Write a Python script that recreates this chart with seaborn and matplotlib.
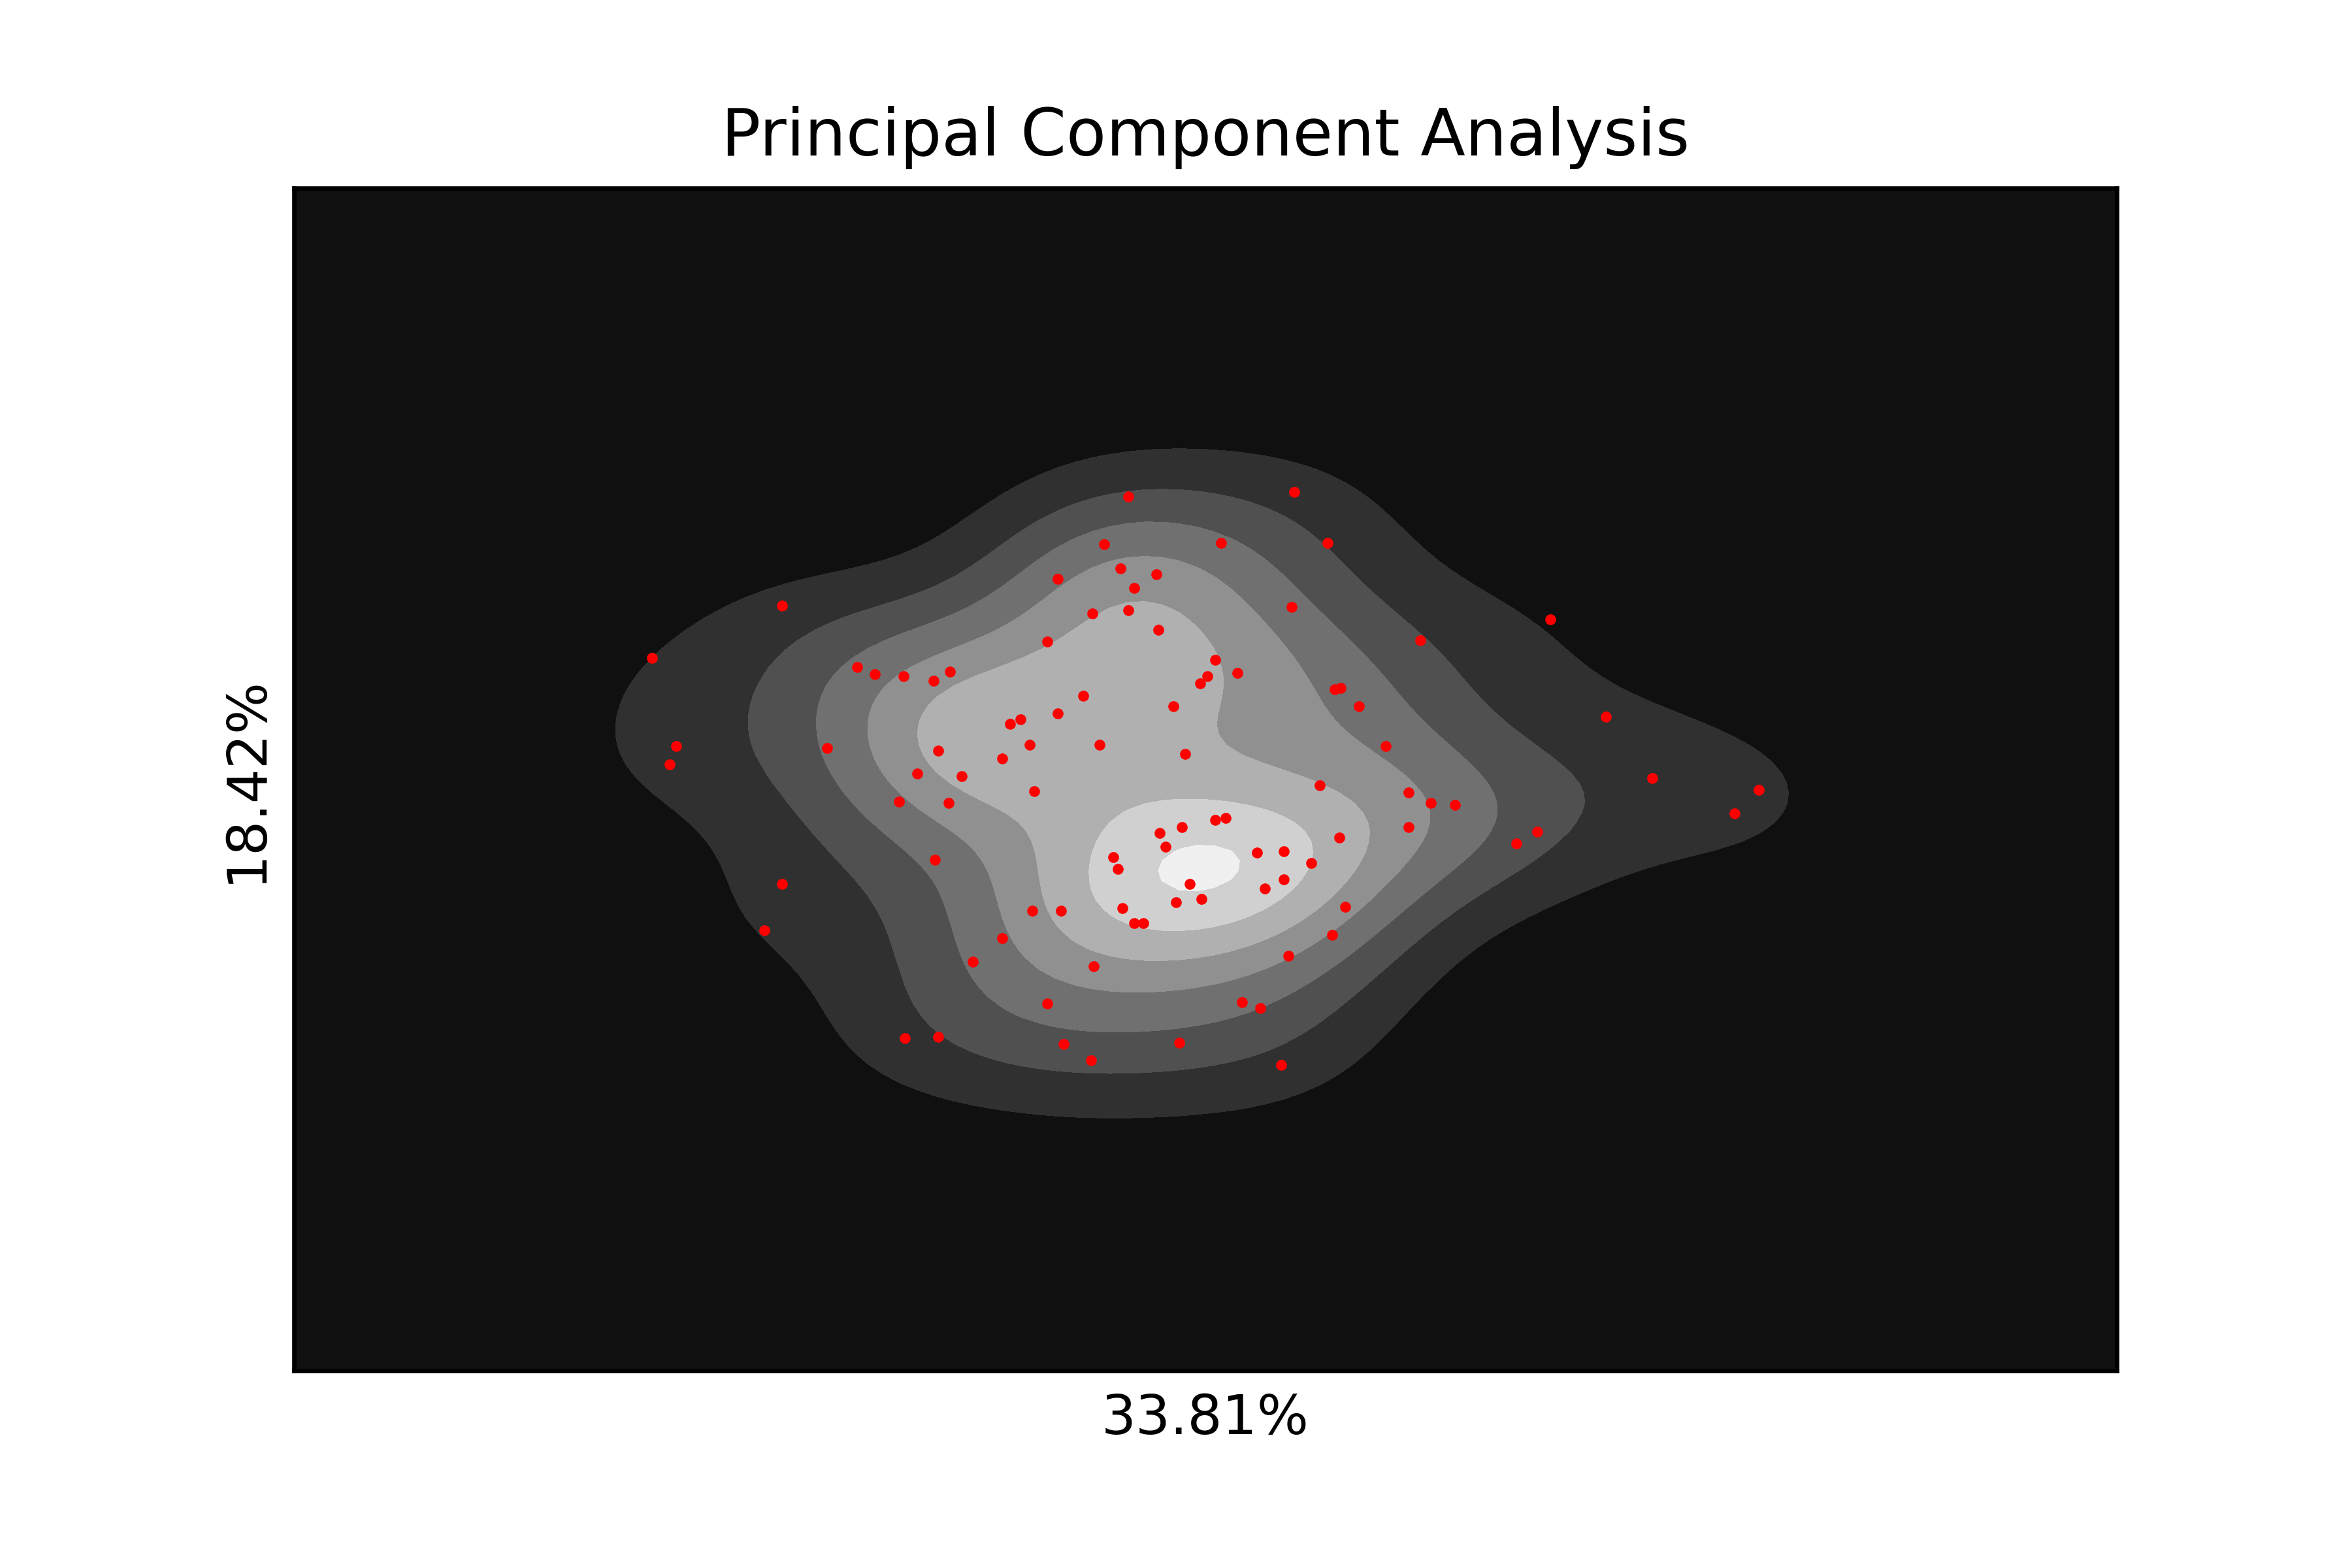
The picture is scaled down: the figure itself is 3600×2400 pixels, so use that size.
import numpy as np
import pandas as pd
import seaborn as sns
import matplotlib.pyplot as plt
from matplotlib.colors import ListedColormap, Normalize

# scores
pc1 = [752, 863, 885, 736, 814, 705, 747, 771, 756, 521, 861, 752, 728, 1034, 772, 698, 947, 434, 810, 571,
       583, 602, 622, 633, 805, 800, 825, 890, 894, 722, 782, 906, 705, 680, 673, 1071, 450, 446, 551, 625,
       686, 733, 668, 790, 924, 611, 641, 1102, 880, 689, 939, 1173, 599, 632, 954, 970, 1157, 810, 817, 788,
       773, 939, 893, 1025, 1011, 777, 838, 856, 742, 745, 623, 874, 856, 843, 793, 521, 801, 784, 748, 688,
       707, 897, 756, 762, 509, 888, 668, 859, 648, 729, 698, 828, 840, 603, 625, 709, 786, 727, 854]
pc2 = [331, 328, 362, 363, 362, 386, 379, 383, 392, 404, 405, 407, 409, 413, 420, 428, 427, 439, 440, 445,
       450, 451, 454, 448, 451, 456, 449, 460, 459, 464, 471, 471, 476, 480, 483, 478, 498, 510, 499, 501,
       497, 497, 506, 503, 498, 516, 518, 519, 524, 528, 529, 527, 535, 536, 536, 537, 543, 547, 546, 552,
       556, 552, 559, 555, 563, 565, 569, 568, 572, 580, 574, 576, 587, 593, 590, 590, 600, 602, 606, 608,
       608, 605, 616, 616, 621, 624, 626, 638, 642, 645, 670, 669, 673, 693, 692, 697, 696, 708, 711]
xlabel = "33.81%"
ylabel = "18.42%"
title = "Principal Component Analysis"
band_colors = ["#101010", "#303030", "#505050", "#707070", "#909090", "#b0b0b0", "#d0d0d0", "#f0f0f0"]
peak_in_steps = 7.2  # le pic dépasse à peine le 7e niveau


def density_levels(x, y, n_bands, steps):
    # niveaux equidistants en densité -> exprimés en iso-proportions pour seaborn
    pts = np.array([x, y], dtype=float)
    n = pts.shape[1]
    cov = np.cov(pts) * n ** (-1 / 3)
    inv = np.linalg.inv(cov)
    gx, gy = np.meshgrid(np.linspace(pts[0].min() - 210, pts[0].max() + 210, 100),
                         np.linspace(pts[1].min() - 140, pts[1].max() + 140, 100))
    dx = gx[..., None] - pts[0]
    dy = gy[..., None] - pts[1]
    dens = np.exp(-0.5 * (inv[0, 0] * dx ** 2 + 2 * inv[0, 1] * dx * dy + inv[1, 1] * dy ** 2)).sum(axis=2)
    dens /= n * 2 * np.pi * np.sqrt(np.linalg.det(cov))
    step = dens.max() / steps
    vals = np.sort(dens.ravel())
    props = [vals[vals < step * k].sum() / vals.sum() for k in range(n_bands)] + [1.0]
    return props, step


df = pd.DataFrame({"pc1": pc1, "pc2": pc2})
levels, step = density_levels(pc1, pc2, len(band_colors), peak_in_steps)

fig, ax = plt.subplots(figsize=(6, 4))
fig.subplots_adjust(bottom=0.126)
ax.set_facecolor(band_colors[0])
sns.kdeplot(data=df, x="pc1", y="pc2", fill=True, cmap=ListedColormap(band_colors),
            norm=Normalize(0, step * len(band_colors)), levels=levels, cut=3, gridsize=100, ax=ax)
sns.scatterplot(data=df, x="pc1", y="pc2", color="red", s=4, linewidth=0, ax=ax)
ax.set_xlim(195, 1412)
ax.set_ylim(915, 125)  # lignes de l'image -> y inversé

ax.set_xticks([])
ax.set_yticks([])
ax.set_title(title)
ax.set_xlabel(xlabel)
ax.set_ylabel(ylabel)

fig.savefig("out.png", dpi=600)
